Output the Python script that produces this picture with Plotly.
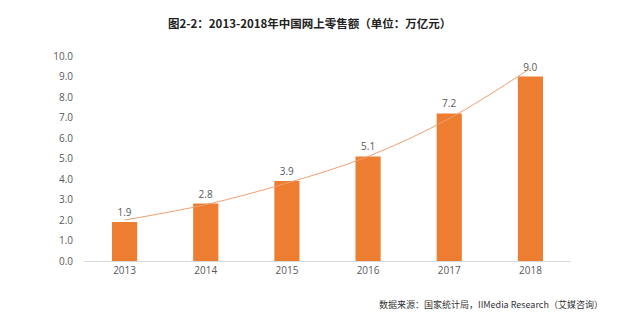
import plotly.graph_objects as go

years = ["2013", "2014", "2015", "2016", "2017", "2018"]
sales = [1.9, 2.8, 3.9, 5.1, 7.2, 9.0]
sales_labels = ["1.9", "2.8", "3.9", "5.1", "7.2", "9.0"]
trend = [2.0, 2.75, 3.8, 5.1, 6.95, 9.4]
y_ticks = [0, 1, 2, 3, 4, 5, 6, 7, 8, 9, 10]
y_tick_labels = ["0.0", "1.0", "2.0", "3.0", "4.0", "5.0", "6.0", "7.0", "8.0", "9.0", "10.0"]

fig = go.Figure()
fig.add_trace(go.Bar(
    x=years, y=sales, marker=dict(color="#ED7D31", line=dict(width=0)),
    text=sales_labels, textposition="outside", cliponaxis=False,
    textfont=dict(size=10, color="#595959", family="Open Sans, Noto Sans CJK SC"),
    hoverinfo="skip"))
fig.add_trace(go.Scatter(
    x=years, y=trend, mode="lines", line=dict(color="#F0A070", width=1, shape="spline"),
    hoverinfo="skip"))

fig.update_layout(
    width=632, height=322,
    margin=dict(l=84, r=61, t=56, b=61),
    paper_bgcolor="white", plot_bgcolor="white",
    showlegend=False, bargap=0.69,
    font=dict(family="Open Sans, Noto Sans CJK SC", color="#595959", size=10),
    title=dict(text="图2-2：2013-2018年中国网上零售额（单位：万亿元）",
               x=0.49, xanchor="center", y=0.925, yanchor="middle",
               font=dict(family="Noto Sans CJK SC", size=11.5, color="#222222", weight="bold")),
    xaxis=dict(showline=True, linecolor="#D9D9D9", linewidth=1, ticks="",
               showgrid=False, tickfont=dict(size=10, color="#595959")),
    yaxis=dict(range=[0, 10], tickvals=y_ticks, ticktext=y_tick_labels,
               showgrid=False, zeroline=False, showline=False, ticks="",
               ticklabelstandoff=10, tickfont=dict(size=10, color="#595959")),
)
fig.add_annotation(text="数据来源：国家统计局，IIMedia Research（艾媒咨询）",
                   xref="paper", yref="paper", x=1.07, y=-0.17, xanchor="right", yanchor="top",
                   showarrow=False, font=dict(family="Noto Sans CJK SC", size=9, color="#333333"))
fig.write_html("out.html")
